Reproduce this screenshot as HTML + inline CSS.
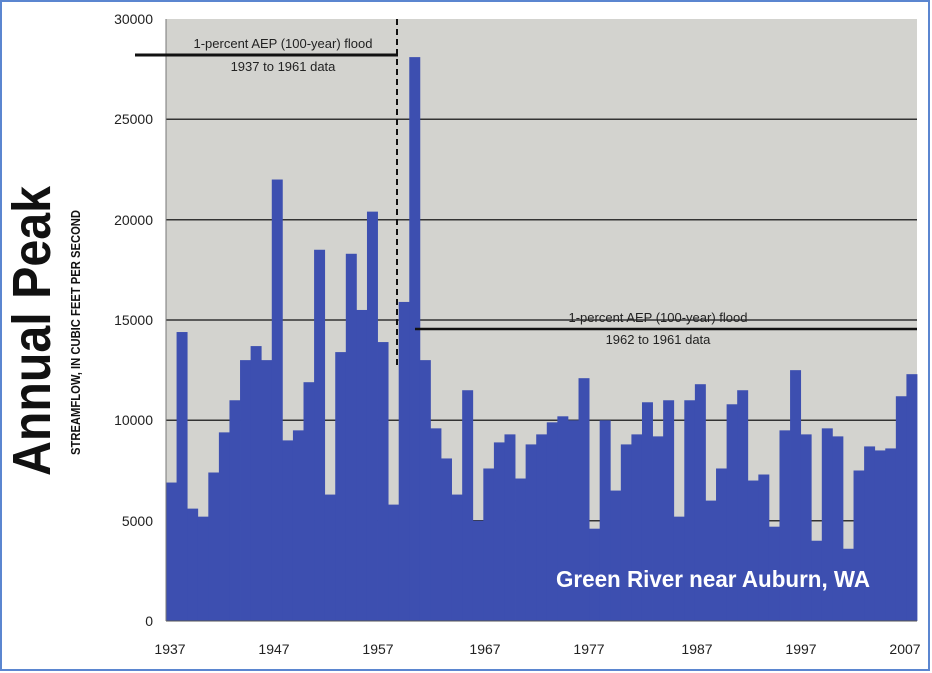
<!DOCTYPE html>
<html><head><meta charset="utf-8"><style>
html,body{margin:0;padding:0;background:#fff;}
svg{display:block;font-family:"Liberation Sans",sans-serif;}
</style></head><body>
<svg width="932" height="673" viewBox="0 0 932 673">
<rect x="1" y="1" width="928" height="669" fill="#fff" stroke="#5b86d0" stroke-width="2"/>
<rect x="166" y="19" width="751" height="602" fill="#d3d3cf"/>
<g stroke="#333" stroke-width="1.5">
<line x1="166" y1="119.3" x2="917" y2="119.3"/>
<line x1="166" y1="219.7" x2="917" y2="219.7"/>
<line x1="166" y1="320" x2="917" y2="320"/>
<line x1="166" y1="420.3" x2="917" y2="420.3"/>
<line x1="166" y1="520.7" x2="917" y2="520.7"/>
</g>
<g id="bars" fill="#3d4fb0"></g>
<line x1="166" y1="621" x2="917" y2="621" stroke="#555"/>
<line x1="166" y1="19" x2="166" y2="621" stroke="#777"/>
<g font-size="14" fill="#222" text-anchor="end">
<text x="153" y="24">30000</text><text x="153" y="124">25000</text><text x="153" y="225">20000</text>
<text x="153" y="325">15000</text><text x="153" y="425">10000</text><text x="153" y="526">5000</text><text x="153" y="626">0</text>
</g>
<g font-size="14" fill="#222" text-anchor="middle">
<text x="170" y="654">1937</text><text x="274" y="654">1947</text><text x="378" y="654">1957</text>
<text x="485" y="654">1967</text><text x="589" y="654">1977</text><text x="697" y="654">1987</text>
<text x="801" y="654">1997</text><text x="905" y="654">2007</text>
</g>
<text transform="translate(50,476) rotate(-90)" font-size="54" font-weight="bold" fill="#111" textLength="290" lengthAdjust="spacingAndGlyphs">Annual Peak</text>
<text transform="translate(80,455) rotate(-90)" font-size="13" font-weight="bold" fill="#111" textLength="245" lengthAdjust="spacingAndGlyphs">STREAMFLOW, IN CUBIC FEET PER SECOND</text>
<line x1="135" y1="55" x2="398" y2="55" stroke="#111" stroke-width="3"/>
<line x1="397" y1="19" x2="397" y2="365" stroke="#111" stroke-width="2" stroke-dasharray="6,4"/>
<text x="283" y="48" text-anchor="middle" font-size="13" fill="#222">1-percent AEP (100-year) flood</text>
<text x="283" y="71" text-anchor="middle" font-size="13" fill="#222">1937 to 1961 data</text>
<line x1="415" y1="329" x2="917" y2="329" stroke="#111" stroke-width="2.5"/>
<text x="658" y="322" text-anchor="middle" font-size="13" fill="#222">1-percent AEP (100-year) flood</text>
<text x="658" y="344" text-anchor="middle" font-size="13" fill="#222">1962 to 1961 data</text>
<text x="556" y="587" font-size="23" font-weight="bold" fill="#fff" textLength="314" lengthAdjust="spacingAndGlyphs">Green River near Auburn, WA</text>
</svg>
<script>
var v=[6.9,14.4,5.6,5.2,7.4,9.4,11.0,13.0,13.7,13.0,22.0,9.0,9.5,11.9,18.5,6.3,13.4,18.3,15.5,20.4,13.9,5.8,15.9,28.1,13.0,9.6,8.1,6.3,11.5,5.0,7.6,8.9,9.3,7.1,8.8,9.3,9.9,10.2,10.0,12.1,4.6,10.0,6.5,8.8,9.3,10.9,9.2,11.0,5.2,11.0,11.8,6.0,7.6,10.8,11.5,7.0,7.3,4.7,9.5,12.5,9.3,4.0,9.6,9.2,3.6,7.5,8.7,8.5,8.6,11.2,12.3];
var g=document.getElementById('bars'),w=751/71,s='';
for(var i=0;i<v.length;i++){var h=v[i]*20.067;s+='<rect x="'+(166+i*w)+'" y="'+(621-h)+'" width="'+(w+0.4)+'" height="'+h+'"/>';}
g.innerHTML=s;
</script>
</body></html>
